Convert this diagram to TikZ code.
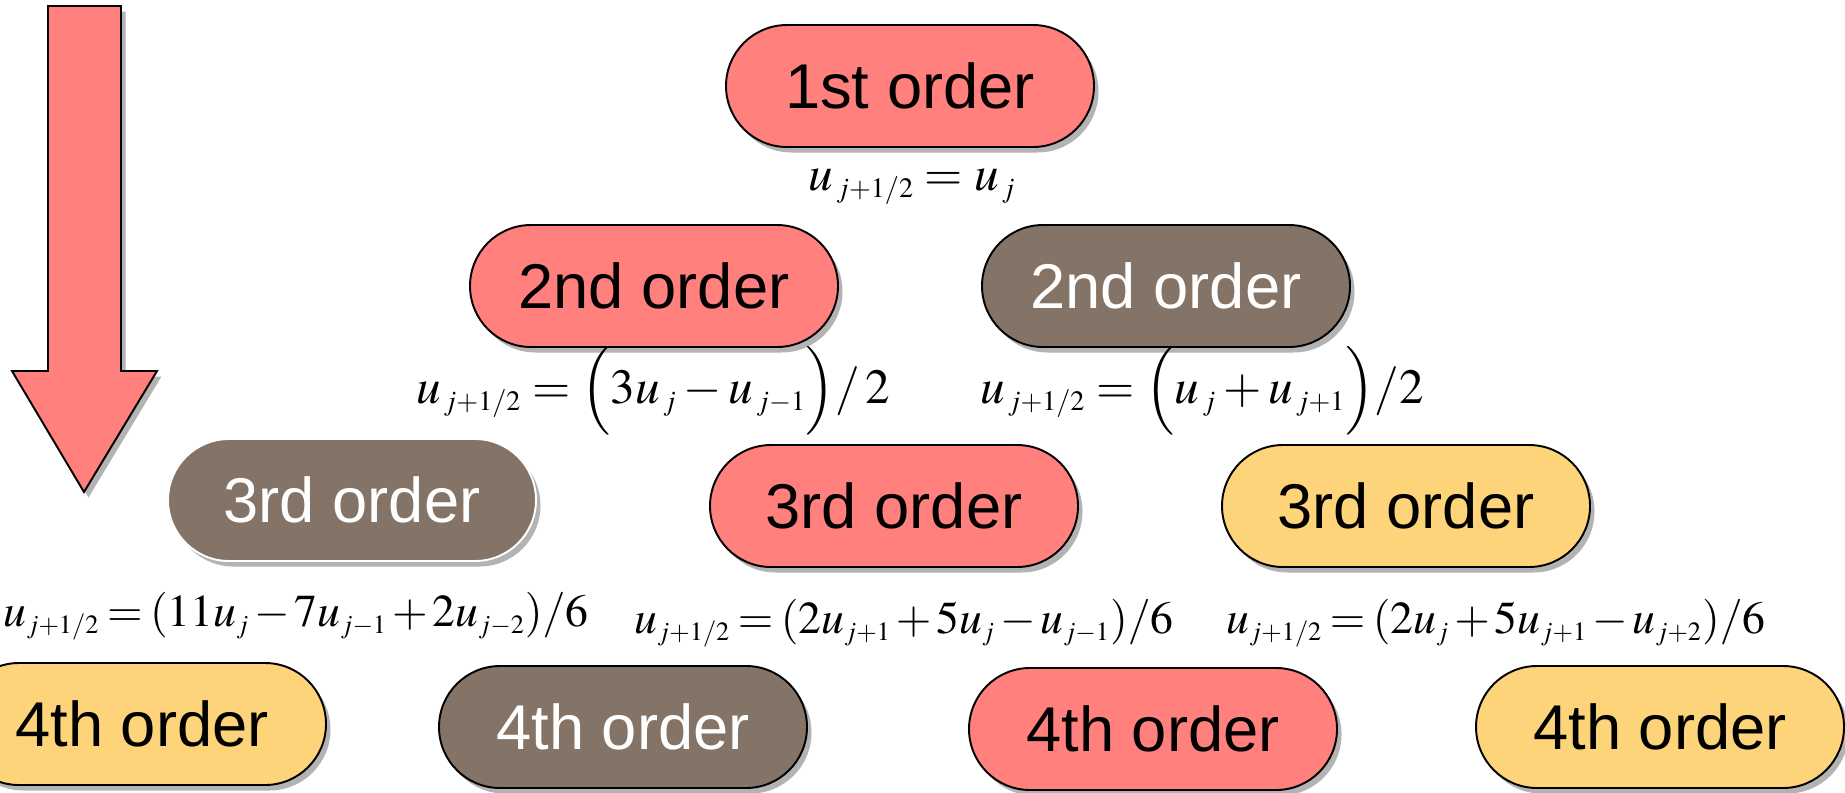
\documentclass[tikz,border=0pt]{standalone}
\usepackage{mathptmx}
\usepackage{amsmath}
\usepackage[no-math]{fontspec}
\newfontfamily\boxfont{Liberation Sans}
\usepackage{tikz}
\usetikzlibrary{shapes,arrows,positioning,shadows}
\DeclareMathSizes{28}{28}{16}{12}
\DeclareMathSizes{26}{26}{15}{11}
\definecolor{redfill}{RGB}{255,128,124}
\definecolor{brownfill}{RGB}{132,115,103}
\definecolor{yellowfill}{RGB}{253,212,122}
\newcommand{\sub}[1]{_{\,#1}}
\tikzstyle{order} = [draw, rectangle, rounded corners=1.22cm, minimum width=7.36cm, minimum height=2.44cm, line width=1.1pt, font=\boxfont\fontsize{36}{40}\selectfont, drop shadow={shadow xshift=0.09cm, shadow yshift=-0.11cm, opacity=0.6}]
\tikzstyle{redbox} = [order, fill=redfill]
\tikzstyle{brownbox} = [order, fill=brownfill, text=white]
\tikzstyle{yellowbox} = [order, fill=yellowfill]
\tikzstyle{formula} = [font=\fontsize{28}{32}\selectfont, inner sep=0pt]
\tikzstyle{tightformula} = [inner sep=0pt, font=\fontsize{26}{30}\selectfont, execute at begin node={\thickmuskip=3mu\medmuskip=2mu}]
\tikzstyle{bigarrow} = [draw, fill=redfill, line width=1.1pt, line join=miter, drop shadow={shadow xshift=0.09cm, shadow yshift=-0.11cm, opacity=0.6}]

\begin{document}
\begin{tikzpicture}
    \useasboundingbox (0,0) rectangle (36.9,-15.84);
    % Arrow
    \path [bigarrow] (0.96,-0.12) -- (2.42,-0.12) -- (2.42,-7.42) -- (3.14,-7.42) -- (1.68,-9.84) -- (0.24,-7.42) -- (0.96,-7.42) -- cycle;
    % Orders
    \node [redbox] (first) at (18.2,-1.72) {1st order};
    \node [redbox] (secondA) at (13.08,-5.72) {2nd order};
    \node [brownbox] (secondB) at (23.32,-5.72) {2nd order};
    \node [brownbox, draw=white] (thirdA) at (7.04,-10.0) {3rd order};
    \node [redbox] (thirdB) at (17.88,-10.12) {3rd order};
    \node [yellowbox] (thirdC) at (28.12,-10.12) {3rd order};
    \node [yellowbox] (fourthA) at (2.84,-14.48) {4th order};
    \node [brownbox] (fourthB) at (12.46,-14.54) {4th order};
    \node [redbox] (fourthC) at (23.06,-14.58) {4th order};
    \node [yellowbox] (fourthD) at (33.2,-14.54) {4th order};
    % Formulas
    \node [formula] (firstF) at (18.24,-3.74) {$u\sub{j+1/2} = u\sub{j}$};
    \node [formula] (secondAF) at (13.06,-7.82) {$u\sub{j+1/2} = \Bigl(3u\sub{j} - u\sub{j-1}\Bigr)\boldsymbol{/}\,2$};
    \node [formula] (secondBF) at (24.04,-7.82) {$u\sub{j+1/2} = \Bigl(u\sub{j} + u\sub{j+1}\Bigr)/2$};
    \node [tightformula] (thirdAF) at (5.92,-12.32) {$u_{j+1/2} = (11u_j - 7u_{j-1} + 2u_{j-2})/6$};
    \node [tightformula] (thirdBF) at (18.08,-12.46) {$u_{j+1/2} = (2u_{j+1} + 5u_j - u_{j-1})/6$};
    \node [tightformula] (thirdCF) at (29.92,-12.46) {$u_{j+1/2} = (2u_j + 5u_{j+1} - u_{j+2})/6$};
\end{tikzpicture}
\end{document}
